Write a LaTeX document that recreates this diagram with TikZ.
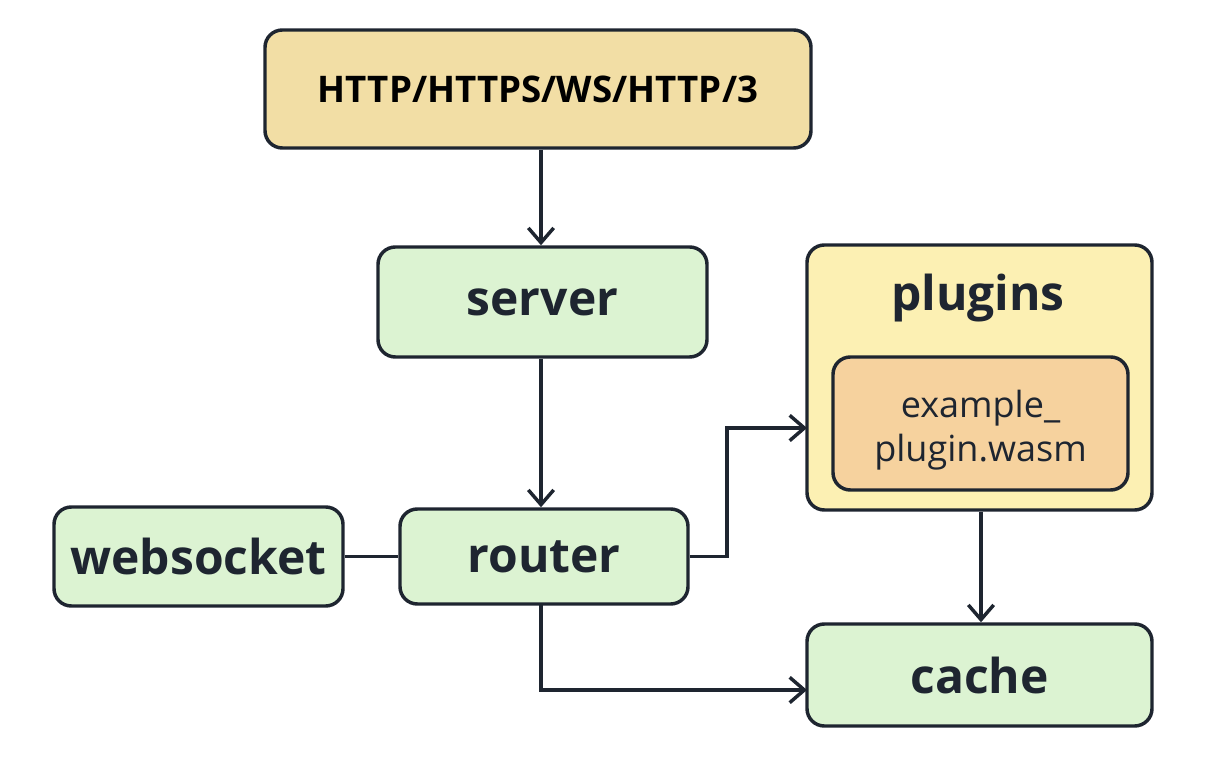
\documentclass[tikz,border=0pt]{standalone}
\usepackage{fontspec}
\setmainfont{Open Sans}
\usetikzlibrary{arrows.meta,calc}
\definecolor{linec}{HTML}{1E2530}
\definecolor{topfill}{HTML}{F2DEA5}
\definecolor{greenfill}{HTML}{DCF3D2}
\definecolor{plugfill}{HTML}{FCF0B3}
\definecolor{innerfill}{HTML}{F6D29E}
\begin{document}
\begin{tikzpicture}[x=0.75pt,y=-0.75pt,
  box/.style={draw=linec,line width=2.6pt,rounded corners=13pt,inner sep=0pt,align=center,text=linec},
  lbl/.style={font=\bfseries\fontsize{36}{40}\selectfont,text=linec},
  arr/.style={draw=linec,line width=2.6pt,-{Straight Barb[length=11pt,width=19pt,line width=2.6pt]}},
  conn/.style={draw=linec,line width=2.6pt}]
\useasboundingbox (0,0) rectangle (1218,766);
\node[box,fill=topfill,minimum width=409.5pt,minimum height=88.5pt,font=\bfseries\fontsize{27.5}{30}\selectfont,text=black] (top) at (538,89) {HTTP/HTTPS/WS/HTTP/3};
\node[box,fill=greenfill,minimum width=246.75pt,minimum height=82.5pt,lbl] (server) at (542.5,302) {server};
\node[box,fill=plugfill,minimum width=258.75pt,minimum height=198.75pt] (plugins) at (979.5,377.5) {};
\node[lbl] (plabel) at (978,298) {plugins};
\node[box,fill=innerfill,minimum width=221.25pt,minimum height=99.75pt] (inner) at (980.5,423.5) {};
\node[align=center,text=linec,font=\fontsize{27}{33}\selectfont] (innertext) at (980.5,430) {example\_\\plugin.wasm};
\node[box,fill=greenfill,minimum width=216.75pt,minimum height=74.25pt,lbl] (websocket) at (198.5,556.5) {websocket};
\node[box,fill=greenfill,minimum width=216pt,minimum height=71.25pt,lbl] (router) at (544,556.5) {router};
\node[box,fill=greenfill,minimum width=258.75pt,minimum height=76.5pt,lbl] (cache) at (979.5,675) {cache};
\coordinate (bend1) at (727,556.5);
\coordinate (pin) at (807,428);
\coordinate (rdown) at (541,604);
\coordinate (cin) at (807,690);
\draw[arr] (top.south -| 541,0) -- (server.north -| 541,0);
\draw[arr] (server.south -| 541,0) -- (router.north -| 541,0);
\draw[conn] (websocket.east) -- (router.west);
\draw[arr] (router.east) -- (bend1) |- (pin);
\draw[arr] (plugins.south -| 981,0) -- (cache.north -| 981,0);
\draw[arr] (rdown) |- (cin);
\end{tikzpicture}
\end{document}
